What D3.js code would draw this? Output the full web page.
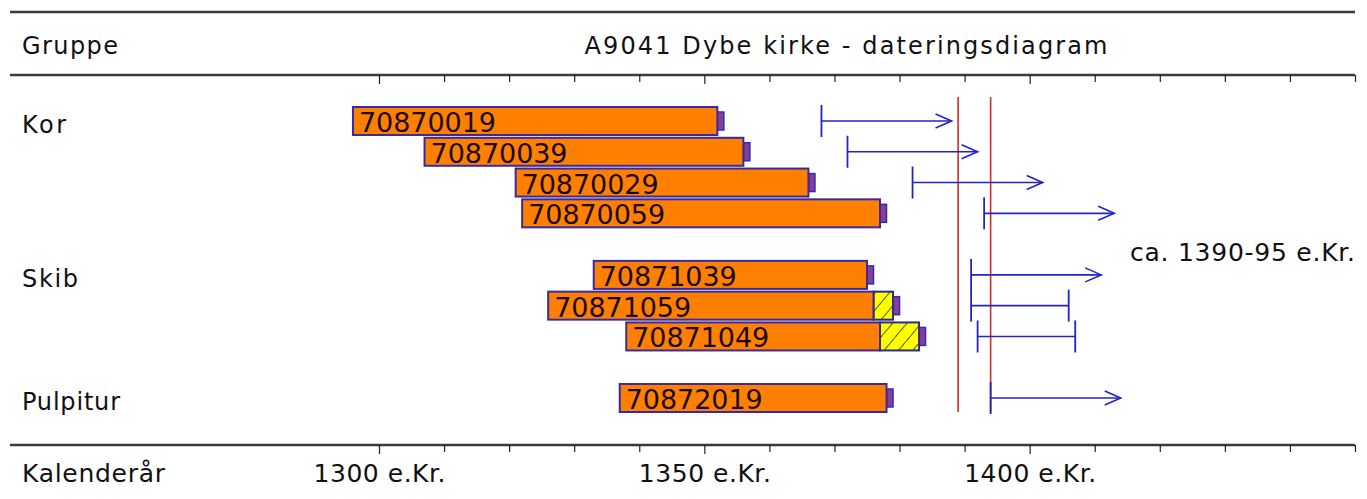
<!DOCTYPE html>
<html><head><meta charset="utf-8">
<script src="https://cdn.jsdelivr.net/npm/d3@7"></script>
<style>html,body{margin:0;padding:0;background:#fff;}svg{display:block;}</style>
</head><body>
<svg id="chart" width="1367" height="499"></svg>
<script>
// ---- data ----
const title = "A9041 Dybe kirke - dateringsdiagram";
const groups = ["Kor", "Skib", "Pulpitur"];
const groupSlot = [0, 5, 9];
const sampleIds = ["70870019","70870039","70870029","70870059","70871039","70871059","70871049","70872019"];
const rowSlot = [0, 1, 2, 3, 5, 6, 7, 9];
const firstRing = [1296, 1307, 1321, 1322, 1333, 1326, 1338, 1337];
const lastHeartRing = [1352, 1356, 1366, 1377, 1375, 1376, 1377, 1378];
const lastSapRing = [null, null, null, null, null, 1379, 1383, null];
const fellingFrom = [1368, 1372, 1382, 1393, 1391, 1391, 1392, 1394];
const fellingTo = [1388, 1392, 1402, 1413, 1411, 1406, 1407, 1414];
const fellingKind = ["after","after","after","after","after","range","range","after"];
const datingLines = [1389, 1394];
const datingText = "ca. 1390-95 e.Kr.";
const tickYears = d3.range(1300, 1451, 10);
const labelYears = [1300, 1350, 1400];
const labelSuffix = " e.Kr.";

// ---- layout ----
const svg = d3.select("#chart");
const x = d3.scaleLinear().domain([1300, 1450]).range([379, 1355]);
const y = d3.scaleLinear().domain([0, 9]).range([121, 398]);
const left = 10, right = 1355;
const barH = 28, endH = 18;
const blue = "#2323c8";
const font = "'DejaVu Sans', sans-serif";

const defs = svg.append("defs");
const pat = defs.append("pattern").attr("id","hatch").attr("patternUnits","userSpaceOnUse")
  .attr("width", 11).attr("height", 11).attr("patternTransform","rotate(40)");
pat.append("rect").attr("width",11).attr("height",11).attr("fill","#ffff00");
pat.append("line").attr("x1",0).attr("y1",0).attr("x2",0).attr("y2",11).attr("stroke","#000").attr("stroke-width",1.3);

// frame lines
[12, 75, 445].forEach(yy => {
  svg.append("line").attr("x1", left).attr("x2", right).attr("y1", yy).attr("y2", yy)
    .attr("stroke", "#3a3a3a").attr("stroke-width", 2.5);
});

// axes (ticks on header line and bottom line)
function drawAxis(yy, withLabels) {
  const ax = d3.axisBottom(x).tickValues(tickYears).tickSize(7)
    .tickFormat(d => withLabels && labelYears.includes(d) ? d + labelSuffix : "");
  const g = svg.append("g").attr("transform", `translate(0,${yy})`).call(ax);
  g.select(".domain").remove();
  g.selectAll(".tick line").attr("stroke", "#222").attr("stroke-width", 1.2)
    .attr("y2", d => labelYears.includes(d) ? 9 : 7);
  g.selectAll(".tick text").attr("font-family", font).attr("font-size", 25)
    .attr("fill", "#111").attr("y", 37).attr("dy", 0)
    .filter(d => labelYears.includes(d)).attr("textLength", 132).attr("lengthAdjust", "spacing");
  return g;
}
drawAxis(75, false);
drawAxis(445, true);

// header texts
svg.append("text").attr("x", 22).attr("y", 54).text("Gruppe")
  .attr("font-family", font).attr("font-size", 24).attr("fill", "#111")
  .attr("textLength", 96).attr("lengthAdjust", "spacing");
svg.append("text").attr("x", 846).attr("y", 54).attr("text-anchor","middle").text(title)
  .attr("font-family", font).attr("font-size", 24).attr("fill", "#111")
  .attr("textLength", 523).attr("lengthAdjust", "spacing");
svg.append("text").attr("x", 22).attr("y", 482).text("Kalenderår")
  .attr("font-family", font).attr("font-size", 25).attr("fill", "#111")
  .attr("textLength", 143).attr("lengthAdjust", "spacing");

// group labels
const groupWidths = [44, 56, 98];
svg.selectAll("text.grp").data(groups).join("text").attr("class","grp")
  .attr("x", 22).attr("y", (d, i) => y(groupSlot[i]) + 12).text(d => d)
  .attr("font-family", font).attr("font-size", 24).attr("fill", "#111")
  .attr("textLength", (d, i) => groupWidths[i]).attr("lengthAdjust", "spacing");

// red dating lines
svg.selectAll("line.dl").data(datingLines).join("line").attr("class","dl")
  .attr("x1", d => x(d)).attr("x2", d => x(d)).attr("y1", 97).attr("y2", 412)
  .attr("stroke", "#d42a2a").attr("stroke-width", 1.6);

svg.append("text").attr("x", 1130).attr("y", 261).text(datingText)
  .attr("font-family", font).attr("font-size", 25).attr("fill", "#111")
  .attr("textLength", 225).attr("lengthAdjust", "spacing");

// rows
const rows = sampleIds.map((id, i) => ({
  id, slot: rowSlot[i], first: firstRing[i], heart: lastHeartRing[i], sap: lastSapRing[i],
  from: fellingFrom[i], to: fellingTo[i], kind: fellingKind[i]
}));

const rg = svg.selectAll("g.row").data(rows).join("g").attr("class","row");

// last ring marker
rg.append("rect")
  .attr("x", d => x(d.sap ?? d.heart)).attr("width", d => x((d.sap ?? d.heart) + 1) - x(d.sap ?? d.heart))
  .attr("y", d => y(d.slot) - endH / 2).attr("height", endH)
  .attr("fill", "#8a3f8a").attr("stroke", "#2a2ad0").attr("stroke-width", 1.5);

// sapwood hatched
rg.filter(d => d.sap != null).append("rect")
  .attr("x", d => x(d.heart)).attr("width", d => x(d.sap) - x(d.heart))
  .attr("y", d => y(d.slot) - barH / 2).attr("height", barH)
  .attr("fill", "url(#hatch)").attr("stroke", "#2a2a9a").attr("stroke-width", 2);

// heartwood bar
rg.append("rect")
  .attr("x", d => x(d.first)).attr("width", d => x(d.heart) - x(d.first))
  .attr("y", d => y(d.slot) - barH / 2).attr("height", barH)
  .attr("fill", "#ff8000").attr("stroke", "#3a2aa0").attr("stroke-width", 2);

rg.append("text").attr("x", d => x(d.first) + 6).attr("y", d => y(d.slot) + 11)
  .text(d => d.id).attr("font-family", font).attr("font-size", 27).attr("fill", "#1a0a0a")
  .attr("textLength", 137).attr("lengthAdjust", "spacing");

// felling lines
rg.append("line").attr("x1", d => x(d.from)).attr("x2", d => x(d.to))
  .attr("y1", d => y(d.slot)).attr("y2", d => y(d.slot)).attr("stroke", blue).attr("stroke-width", 1.6);
rg.append("line").attr("x1", d => x(d.from)).attr("x2", d => x(d.from))
  .attr("y1", d => y(d.slot) - 16).attr("y2", d => y(d.slot) + 16).attr("stroke", blue).attr("stroke-width", 1.8);
rg.filter(d => d.kind === "range").append("line").attr("x1", d => x(d.to)).attr("x2", d => x(d.to))
  .attr("y1", d => y(d.slot) - 16).attr("y2", d => y(d.slot) + 16).attr("stroke", blue).attr("stroke-width", 1.8);
rg.filter(d => d.kind === "after").append("path")
  .attr("d", d => { const ex = x(d.to), ey = y(d.slot); return `M${ex-16},${ey-7}L${ex},${ey}L${ex-16},${ey+7}`; })
  .attr("fill", "none").attr("stroke", blue).attr("stroke-width", 1.6);
</script>
</body></html>
